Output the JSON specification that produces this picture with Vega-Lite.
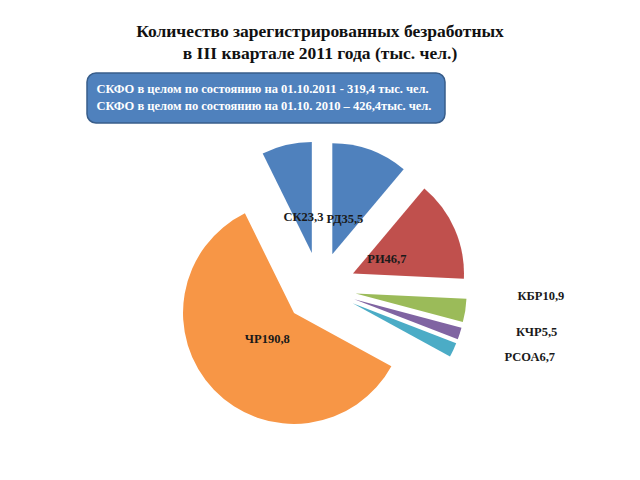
{
  "$schema": "https://vega.github.io/schema/vega-lite/v6.json",
  "width": 640,
  "height": 480,
  "autosize": "none",
  "padding": 0,
  "background": "white",
  "title": {
    "text": ["Количество зарегистрированных безработных", "в III квартале 2011 года (тыс. чел.)"],
    "font": "Liberation Serif",
    "fontSize": 17.5,
    "fontWeight": "bold",
    "color": "#111111",
    "anchor": "middle",
    "frame": "group",
    "lineHeight": 22,
    "offset": -62
  },
  "config": {
    "view": {"stroke": null},
    "legend": {
      "orient": "none",
      "legendX": 87,
      "legendY": 73,
      "fillColor": "#4F81BD",
      "strokeColor": "#385D8A",
      "strokeWidth": 1.5,
      "cornerRadius": 9,
      "padding": 10,
      "labelFont": "Liberation Serif",
      "labelFontWeight": "bold",
      "labelFontSize": 12.5,
      "labelColor": "white",
      "labelLimit": 600,
      "labelOffset": -13,
      "symbolSize": 0,
      "symbolOpacity": 0,
      "symbolStrokeWidth": 0,
      "rowPadding": 4
    }
  },
  "data": {
    "values": [
      {"r": "РД", "v": 35.5, "o": 1, "label": "РД35,5"},
      {"r": "РИ", "v": 46.7, "o": 2, "label": "РИ46,7"},
      {"r": "КБР", "v": 10.9, "o": 3, "label": "КБР10,9"},
      {"r": "КЧР", "v": 5.5, "o": 4, "label": "КЧР5,5"},
      {"r": "РСОА", "v": 6.7, "o": 5, "label": "РСОА6,7"},
      {"r": "ЧР", "v": 190.8, "o": 6, "label": "ЧР190,8"},
      {"r": "СК", "v": 23.3, "o": 7, "label": "СК23,3"}
    ]
  },
  "layer": [
    {
      "mark": {
        "type": "arc",
        "radius": 111,
        "x": {"expr": "width/2 + 36*sin(scale('theta', (datum.v_start + datum.v_end)/2))"},
        "y": {"expr": "height*0.6 - 36*cos(scale('theta', (datum.v_start + datum.v_end)/2))"}
      },
      "encoding": {
        "theta": {"field": "v", "type": "quantitative", "stack": true},
        "order": {"field": "o", "type": "quantitative"},
        "color": {
          "field": "r",
          "type": "nominal",
          "scale": {
            "domain": ["РД", "РИ", "КБР", "КЧР", "РСОА", "ЧР", "СК"],
            "range": ["#4F81BD", "#C0504D", "#9BBB59", "#8064A2", "#4BACC6", "#F79646", "#4F81BD"]
          },
          "legend": null
        }
      }
    },
    {
      "mark": {
        "type": "text",
        "radius": 73,
        "x": {"expr": "width/2"},
        "y": {"expr": "height*0.6"},
        "font": "Liberation Serif",
        "fontWeight": "bold",
        "fontSize": 12.5,
        "color": "#1a1a1a",
        "align": "center",
        "baseline": "middle"
      },
      "encoding": {
        "theta": {"field": "v", "type": "quantitative", "stack": true},
        "order": {"field": "o", "type": "quantitative"},
        "text": {"condition": {"test": "datum.v > 20", "field": "label"}, "value": ""}
      }
    },
    {
      "mark": {
        "type": "text",
        "radius": 221,
        "thetaOffset": -0.115,
        "x": {"expr": "width/2"},
        "y": {"expr": "height*0.6"},
        "font": "Liberation Serif",
        "fontWeight": "bold",
        "fontSize": 12.5,
        "color": "#1a1a1a",
        "align": "center",
        "baseline": "middle"
      },
      "encoding": {
        "theta": {"field": "v", "type": "quantitative", "stack": true},
        "order": {"field": "o", "type": "quantitative"},
        "text": {"condition": {"test": "datum.v <= 20", "field": "label"}, "value": ""}
      }
    },
    {
      "data": {
        "values": [
          {"info": "СКФО в целом  по состоянию на 01.10.2011 -  319,4 тыс. чел."},
          {"info": "СКФО в целом  по состоянию на 01.10. 2010 – 426,4тыс. чел."}
        ]
      },
      "mark": {"type": "point", "opacity": 0, "size": 0},
      "encoding": {
        "shape": {
          "field": "info",
          "type": "nominal",
          "sort": null,
          "legend": {
            "title": null,
            "labelFont": "Liberation Serif",
            "labelFontWeight": "bold",
            "labelFontSize": 12.5,
            "labelColor": "white"
          }
        }
      }
    }
  ]
}
